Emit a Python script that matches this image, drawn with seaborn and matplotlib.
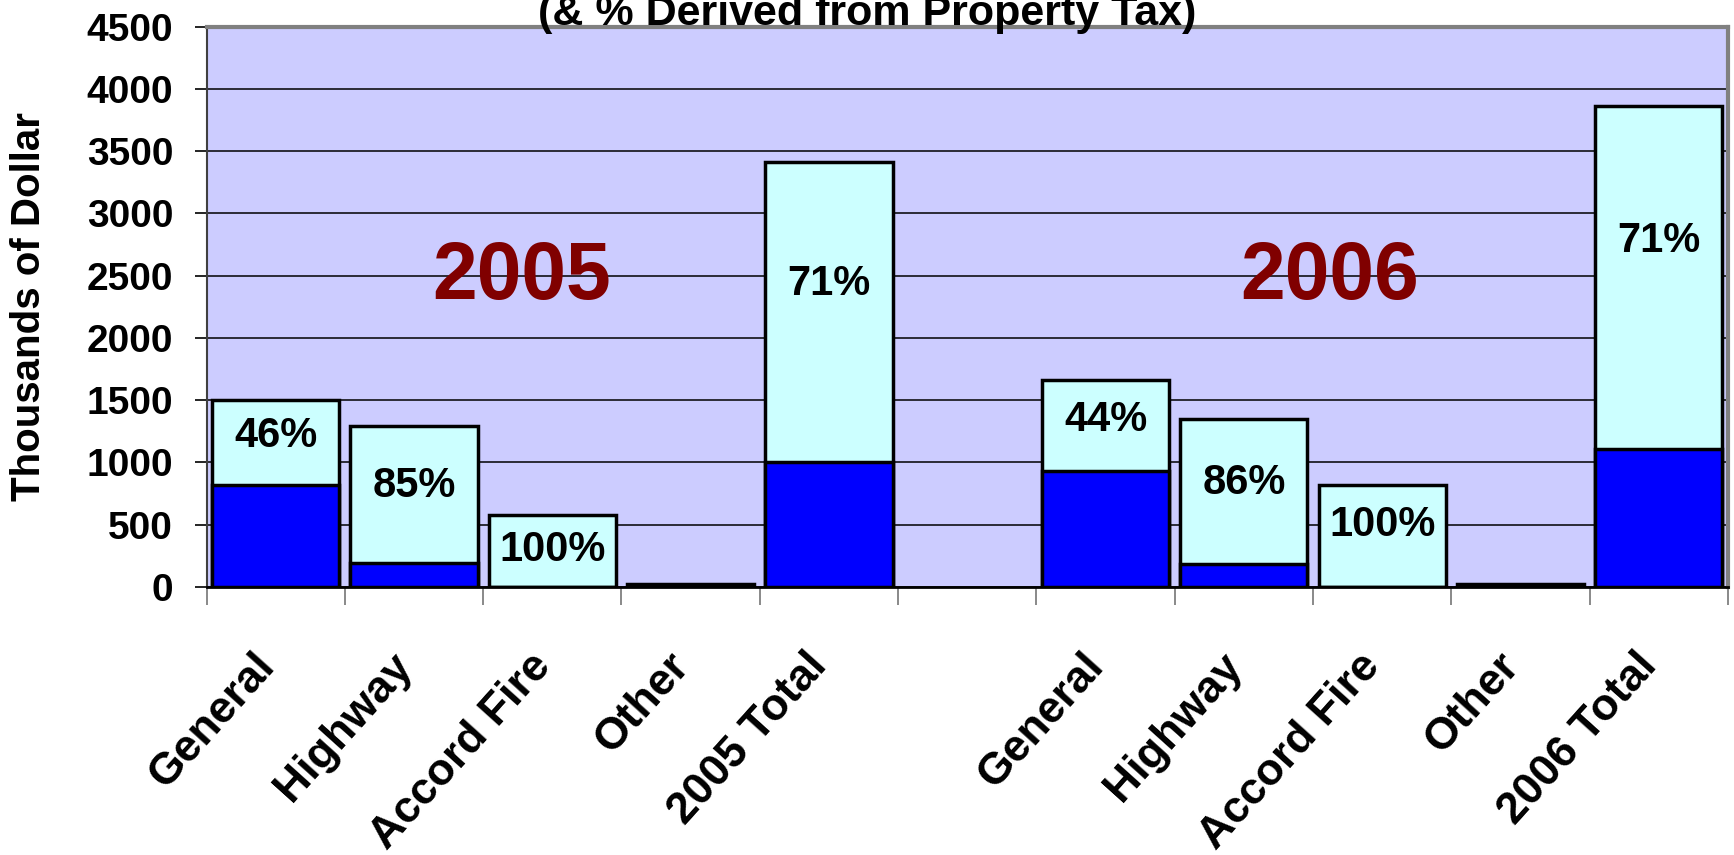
import numpy as np
import pandas as pd
import matplotlib
matplotlib.use("Agg")
import matplotlib.pyplot as plt
import matplotlib.transforms as mtransforms
import seaborn as sns

# Data (thousands of dollars)
labels = ["General", "Highway", "Accord Fire", "Other", "2005 Total", "",
          "General", "Highway", "Accord Fire", "Other", "2006 Total"]
totals = [1500, 1290, 580, 25, 3410, np.nan, 1665, 1350, 815, 25, 3865]
blue_part = [815, 190, 0, 0, 1000, np.nan, 930, 185, 0, 0, 1110]
pct_labels = ["46%", "85%", "100%", "", "71%", "", "44%", "86%", "100%", "", "71%"]
pct_y = [1210, 810, 300, 0, 2430, 0, 1340, 835, 500, 0, 2780]
year_labels = ["2005", "2006"]
year_x = [1.78, 7.62]
year_y = [2480, 2480]

keys = [str(i) for i in range(len(labels))]
df = pd.DataFrame({"key": keys, "total": totals, "blue": blue_part})

plt.rcParams["font.family"] = ["Liberation Sans", "DejaVu Sans"]
plt.rcParams["font.weight"] = "bold"

fig = plt.figure(figsize=(17.34, 8.55), dpi=100)
ax = fig.add_axes([0.1191, 0.3135, 0.8774, 0.6555])
ax.set_facecolor("#CCCCFF")

sns.barplot(data=df, x="key", y="total", order=keys, color="#CCFFFF",
            saturation=1, edgecolor="black", linewidth=2.5, width=0.92,
            errorbar=None, ax=ax)
sns.barplot(data=df, x="key", y="blue", order=keys, color="#0000FF",
            saturation=1, edgecolor="black", linewidth=2.5, width=0.92,
            errorbar=None, ax=ax)

ax.set_xlim(-0.5, 10.5)
ax.set_ylim(0, 4500)
ax.set_yticks(range(0, 4501, 500))
ax.set_axisbelow(True)
ax.yaxis.grid(True, color="black", linewidth=1.1)
ax.xaxis.grid(False)

# percentage labels
for i, s in enumerate(pct_labels):
    if s:
        ax.text(i, pct_y[i], s, ha="center", va="center", fontsize=30,
                fontweight="bold", color="black")

for s, x, y in zip(year_labels, year_x, year_y):
    ax.text(x, y, s, ha="center", va="center", fontsize=58,
            fontweight="bold", color="#800000")

# axes styling
ax.set_xlabel("")
ax.set_ylabel("Thousands of Dollar", fontsize=29, fontweight="bold")
ax.yaxis.set_label_coords(-0.1045, 0.5)
ax.tick_params(axis="y", labelsize=28, length=9, width=1.2, color="black", pad=15)
for t in ax.get_yticklabels():
    t.set_fontweight("bold")

ax.set_xticks(range(len(labels)))
ax.set_xticklabels(labels, rotation=48, ha="right", va="top",
                   rotation_mode="anchor", fontsize=32, fontweight="bold")
ax.set_xticks(np.arange(-0.5, 11, 1), minor=True)
ax.tick_params(axis="x", which="major", length=0, pad=42)
ax.tick_params(axis="x", which="minor", length=13, width=1.3, color="#808080")
offset = mtransforms.ScaledTranslation(-0.24, 0, fig.dpi_scale_trans)
for t in ax.get_xticklabels():
    t.set_transform(t.get_transform() + offset)

ax.spines["top"].set_color("#808080")
ax.spines["right"].set_color("#808080")
ax.spines["top"].set_linewidth(3)
ax.spines["right"].set_linewidth(3)
ax.spines["left"].set_color("#404040")
ax.spines["left"].set_linewidth(1.5)
ax.spines["bottom"].set_color("black")
ax.spines["bottom"].set_linewidth(2)

# title, partly cut off at the top like the original
fig.text(0.5, 0.9708, "(& % Derived from Property Tax)", ha="center",
         va="baseline", fontsize=31, fontweight="bold")

fig.savefig("out.png", dpi=100)
